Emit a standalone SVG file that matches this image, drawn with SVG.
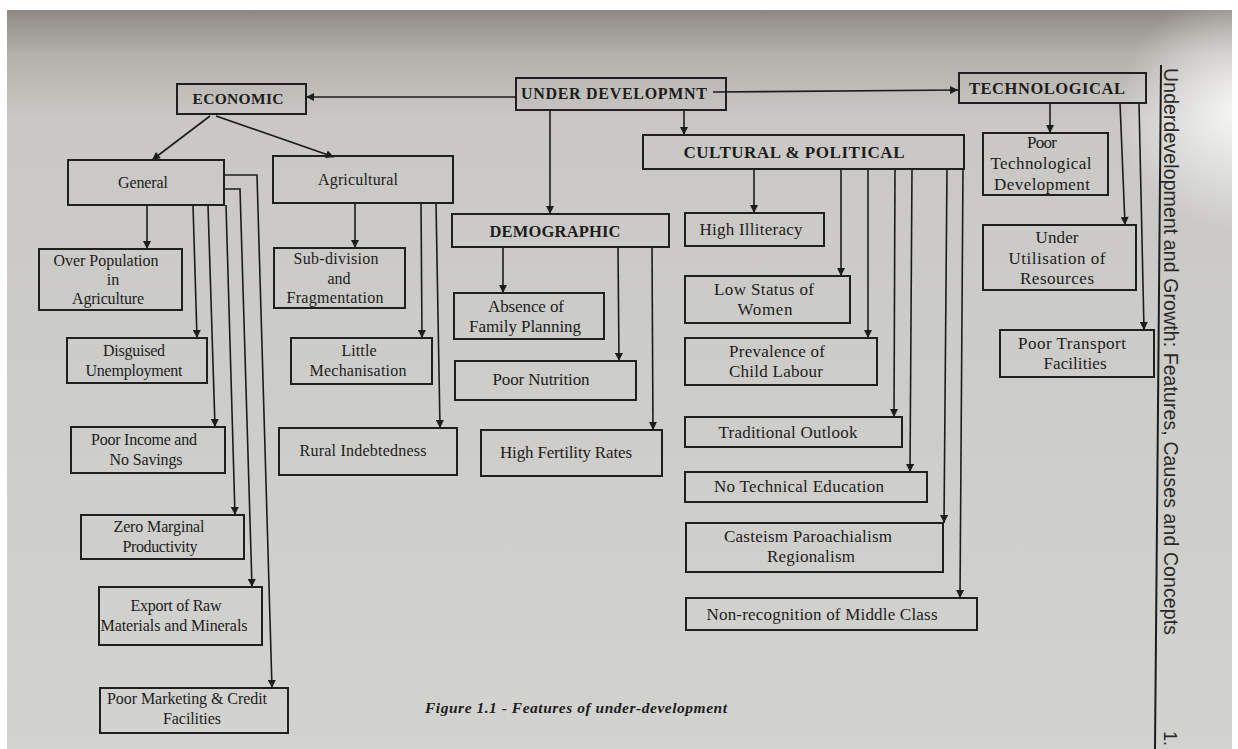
<svg xmlns="http://www.w3.org/2000/svg" width="1238" height="749" viewBox="0 0 1238 749">
<defs>
<linearGradient id="paper" x1="0" y1="0" x2="0" y2="1">
<stop offset="0" stop-color="#8e8985"/>
<stop offset="0.06" stop-color="#b3b0ab"/>
<stop offset="0.15" stop-color="#c9c8c4"/>
<stop offset="1" stop-color="#d2d2cf"/>
</linearGradient>
<radialGradient id="glare" cx="1238" cy="110" r="120" gradientUnits="userSpaceOnUse">
<stop offset="0" stop-color="#ffffff" stop-opacity="0.85"/>
<stop offset="1" stop-color="#ffffff" stop-opacity="0"/>
</radialGradient>
<marker id="ah" viewBox="0 0 10 10" refX="10" refY="5" markerWidth="9" markerHeight="8" markerUnits="userSpaceOnUse" orient="auto">
<path d="M0,0 L10,5 L0,10 z" fill="#1c1c1c"/>
</marker>
<style>
.box{fill:none;stroke:#1f1f1f;stroke-width:2}
.t{font-family:"Liberation Serif","Times New Roman",serif;fill:#1c1c1c;text-anchor:middle}
.s16{font-size:16px}
.s17{font-size:17px}
.h{font-weight:bold}
.c line,.c path{fill:none;stroke:#1c1c1c;stroke-width:1.6;marker-end:url(#ah)}
</style>
</defs>
<rect width="1238" height="749" fill="#ffffff"/>
<rect x="7" y="10" width="1225" height="739" fill="url(#paper)"/>
<rect x="1000" y="10" width="232" height="300" fill="url(#glare)"/>

<g id="connectors" class="c">
<line x1="516" y1="97" x2="306" y2="97"/>
<line x1="713" y1="92" x2="958" y2="90"/>
<line x1="210" y1="116" x2="152" y2="160"/>
<line x1="216" y1="116" x2="334" y2="157"/>
<line x1="550" y1="110" x2="550" y2="214"/>
<line x1="684" y1="110" x2="684" y2="135"/>
<line x1="1050" y1="103" x2="1050" y2="133"/>
<line x1="1120" y1="103" x2="1125" y2="225"/>
<line x1="1139" y1="103" x2="1144" y2="330"/>
<line x1="147" y1="205" x2="147" y2="249"/>
<line x1="193" y1="205" x2="197" y2="338"/>
<line x1="208" y1="205" x2="215" y2="427"/>
<line x1="226" y1="205" x2="235" y2="515"/>
<path d="M224,189 H240 L252,587"/>
<path d="M224,175 H257 L272,688"/>
<line x1="355" y1="203" x2="355" y2="248"/>
<line x1="421" y1="203" x2="422" y2="338"/>
<line x1="436" y1="203" x2="440" y2="428"/>
<line x1="503" y1="247" x2="503" y2="293"/>
<line x1="618" y1="247" x2="619" y2="361"/>
<line x1="652" y1="247" x2="653" y2="430"/>
<line x1="754" y1="169" x2="754" y2="213"/>
<line x1="841" y1="169" x2="841" y2="276"/>
<line x1="868" y1="169" x2="868" y2="338"/>
<line x1="895" y1="169" x2="894" y2="417"/>
<line x1="912" y1="169" x2="910" y2="472"/>
<line x1="947" y1="169" x2="944" y2="523"/>
<line x1="963" y1="169" x2="960" y2="598"/>
</g>

<g id="underdevelopment"><rect class="box" x="516" y="78" width="210" height="32"/><text class="t h" x="614" y="99" font-size="16" textLength="186">UNDER DEVELOPMNT</text></g>
<g id="economic"><rect class="box" x="177" y="84" width="129" height="30"/><text class="t h" x="238" y="104" font-size="15.5" textLength="91">ECONOMIC</text></g>
<g id="technological"><rect class="box" x="959" y="73" width="187" height="30"/><text class="t h" x="1047" y="94" font-size="16.5" textLength="156">TECHNOLOGICAL</text></g>
<g id="cultural"><rect class="box" x="643" y="135" width="321" height="34"/><text class="t h" x="794" y="158" font-size="17" textLength="221">CULTURAL &amp; POLITICAL</text></g>
<g id="demographic"><rect class="box" x="452" y="214" width="217" height="33"/><text class="t h" x="555" y="237" font-size="16.5" textLength="131">DEMOGRAPHIC</text></g>

<g id="general"><rect class="box" x="68" y="160" width="156" height="45"/><text class="t s16" x="143" y="188" textLength="50">General</text></g>
<g id="agricultural"><rect class="box" x="273" y="156" width="180" height="47"/><text class="t s16" x="358" y="185" textLength="80">Agricultural</text></g>

<g id="over-population"><rect class="box" x="39" y="249" width="143" height="61"/>
<text class="t s16" x="106" y="266" textLength="105">Over Population</text>
<text class="t s16" x="113" y="285">in</text>
<text class="t s16" x="108" y="304" textLength="72">Agriculture</text></g>
<g id="disguised"><rect class="box" x="67" y="338" width="140" height="45"/>
<text class="t s16" x="134" y="356" textLength="62">Disguised</text>
<text class="t s16" x="134" y="376" textLength="97">Unemployment</text></g>
<g id="poor-income"><rect class="box" x="71" y="427" width="154" height="46"/>
<text class="t s16" x="144" y="445" textLength="106">Poor Income and</text>
<text class="t s16" x="146" y="465" textLength="73">No Savings</text></g>
<g id="zero-marginal"><rect class="box" x="81" y="515" width="163" height="44"/>
<text class="t s16" x="159" y="532" textLength="91">Zero Marginal</text>
<text class="t s16" x="160" y="552" textLength="75">Productivity</text></g>
<g id="export"><rect class="box" x="99" y="587" width="163" height="58"/>
<text class="t s16" x="176" y="611" textLength="91">Export of Raw</text>
<text class="t s16" x="174" y="631" textLength="147">Materials and Minerals</text></g>
<g id="poor-marketing"><rect class="box" x="100" y="688" width="188" height="45"/>
<text class="t s16" x="187" y="704" textLength="160">Poor Marketing &amp; Credit</text>
<text class="t s16" x="192" y="724" textLength="58">Facilities</text></g>

<g id="sub-division"><rect class="box" x="274" y="248" width="131" height="60"/>
<text class="t s16" x="336" y="264" textLength="85">Sub-division</text>
<text class="t s16" x="339" y="284">and</text>
<text class="t s16" x="335" y="303" textLength="97">Fragmentation</text></g>
<g id="little-mechanisation"><rect class="box" x="291" y="338" width="141" height="46"/>
<text class="t s16" x="359" y="356" textLength="35">Little</text>
<text class="t s16" x="358" y="376" textLength="97">Mechanisation</text></g>
<g id="rural-indebtedness"><rect class="box" x="279" y="428" width="178" height="47"/>
<text class="t s16" x="363" y="456" textLength="127">Rural Indebtedness</text></g>

<g id="absence"><rect class="box" x="454" y="293" width="150" height="46"/>
<text class="t s17" x="526" y="312" textLength="76">Absence of</text>
<text class="t s17" x="525" y="332" textLength="112">Family Planning</text></g>
<g id="poor-nutrition"><rect class="box" x="455" y="361" width="181" height="39"/>
<text class="t s17" x="541" y="385" textLength="97">Poor Nutrition</text></g>
<g id="high-fertility"><rect class="box" x="481" y="430" width="181" height="46"/>
<text class="t s17" x="566" y="458" textLength="132">High Fertility Rates</text></g>

<g id="high-illiteracy"><rect class="box" x="685" y="213" width="139" height="33"/>
<text class="t s17" x="751" y="235" textLength="103">High Illiteracy</text></g>
<g id="low-status"><rect class="box" x="685" y="276" width="165" height="47"/>
<text class="t s17" x="764" y="295" textLength="100">Low Status of</text>
<text class="t s17" x="765" y="315" textLength="55">Women</text></g>
<g id="child-labour"><rect class="box" x="685" y="338" width="192" height="47"/>
<text class="t s17" x="777" y="357" textLength="96">Prevalence of</text>
<text class="t s17" x="776" y="377" textLength="94">Child Labour</text></g>
<g id="traditional"><rect class="box" x="685" y="417" width="217" height="30"/>
<text class="t s17" x="788" y="438" textLength="139">Traditional Outlook</text></g>
<g id="no-technical"><rect class="box" x="685" y="472" width="242" height="30"/>
<text class="t s17" x="799" y="492" textLength="170">No Technical Education</text></g>
<g id="casteism"><rect class="box" x="686" y="523" width="257" height="49"/>
<text class="t s17" x="808" y="542" textLength="168">Casteism Paroachialism</text>
<text class="t s17" x="811" y="562" textLength="88">Regionalism</text></g>
<g id="non-recognition"><rect class="box" x="686" y="598" width="291" height="32"/>
<text class="t s17" x="822" y="620" textLength="231">Non-recognition of Middle Class</text></g>

<g id="poor-tech"><rect class="box" x="983" y="133" width="125" height="62"/>
<text class="t s17" x="1042" y="148" textLength="30">Poor</text>
<text class="t s17" x="1041" y="169" textLength="101">Technological</text>
<text class="t s17" x="1042" y="190" textLength="96">Development</text></g>
<g id="under-utilisation"><rect class="box" x="983" y="225" width="153" height="65"/>
<text class="t s17" x="1057" y="243" textLength="43">Under</text>
<text class="t s17" x="1057" y="264" textLength="97">Utilisation of</text>
<text class="t s17" x="1057" y="284" textLength="74">Resources</text></g>
<g id="poor-transport"><rect class="box" x="1000" y="330" width="154" height="47"/>
<text class="t s17" x="1072" y="349" textLength="108">Poor Transport</text>
<text class="t s17" x="1075" y="369" textLength="63">Facilities</text></g>

<text x="425" y="713" font-family="Liberation Serif, serif" font-size="15.5" font-weight="bold" font-style="italic" fill="#1c1c1c" textLength="302">Figure 1.1 - Features of under-development</text>

<line x1="1161" y1="65" x2="1155" y2="749" stroke="#1c1c1c" stroke-width="2"/>
<text transform="translate(1164,68) rotate(90)" font-family="Liberation Sans, Arial, sans-serif" font-size="19.5" fill="#2a2a2a" textLength="567">Underdevelopment and Growth: Features, Causes and Concepts</text>
<text transform="translate(1164,731) rotate(90)" font-family="Liberation Sans, Arial, sans-serif" font-size="18" fill="#2a2a2a">1.</text>
</svg>
